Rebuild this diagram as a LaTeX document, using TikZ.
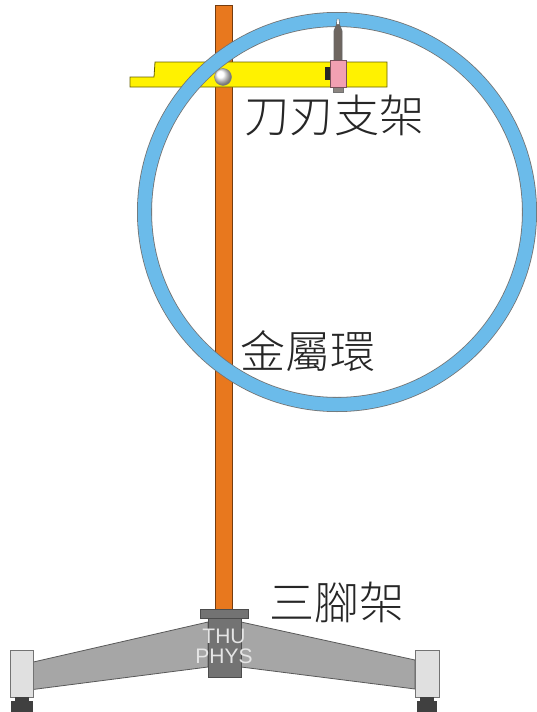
\documentclass[tikz,border=0pt]{standalone}
\usepackage{fontspec}
\newfontfamily\cjk{Noto Sans CJK TC Light}
\newfontfamily\labelsans{Liberation Sans}
\usetikzlibrary{shadings}
\definecolor{rodorange}{HTML}{E8781E}
\definecolor{baryellow}{HTML}{FFF200}
\definecolor{ringblue}{HTML}{6BBBEA}
\definecolor{knifepink}{HTML}{F2A0B2}
\definecolor{bladegray}{HTML}{6E6660}
\tikzset{part/.style={draw=#1,line width=0.8pt},part/.default=black!70}
\tikzset{label/.style={font=\cjk\fontsize{45}{45}\selectfont,text=black!85,inner sep=0pt}}
\tikzset{leg/.style={part=black!65,fill=black!35}}
\tikzset{foot/.style={part=black!55,fill=black!12}}
\tikzset{pad/.style={fill=black!75}}

\begin{document}
\begin{tikzpicture}[x=1pt,y=-1pt]
		\useasboundingbox (0,0) rectangle (537,712);
		
		% stand rod
		\filldraw [part=rodorange!50!black,fill=rodorange] (215,5) rectangle (232,612);
		
		% knife-edge holder bar
		\filldraw [part=baryellow!40!black,fill=baryellow]
			(130,77) -- (154,77) -- (155,62) -- (387,62) -- (387,87) -- (130,87) -- cycle;
		
		% metal ring
		\draw [black!55,line width=15pt] (337,212) circle (192.5);
		\draw [ringblue,line width=13.4pt] (337,212) circle (192.5);
		
		% pivot ball
		\shade [ball color=white] (223,77) circle (8.5);
		\draw [black!50,thin] (223,77) circle (8.5);
		
		% knife edge
		\fill [black!85] (325,67) rectangle (331,80);
		\filldraw [part=black!60,fill=bladegray]
			(334,60) -- (334,31) -- (336,26) -- (338,21) -- (340,26) -- (342,31) -- (342,60) -- cycle;
		\draw [black!70,fill=white] (336.5,24) -- (337,19) -- (339,19) -- (339.5,24);
		\filldraw [part=black!55,fill=bladegray!80] (333,87) rectangle (343,92);
		\filldraw [part=knifepink!50!black,fill=knifepink] (330,60) rectangle (346,87);
		
		% tripod legs
		\filldraw [leg] (29,663) -- (208,622) -- (208,667) -- (29,690) -- cycle;
		\filldraw [leg] (415,660) -- (241,622) -- (241,667) -- (415,689) -- cycle;
		
		% feet
		\filldraw [foot] (10,650) rectangle (33,697);
		\filldraw [foot] (415,650) rectangle (439,697);
		\fill [pad] (15,697) rectangle (29,702);
		\fill [pad] (11,701) rectangle (33,712);
		\fill [pad] (420,697) rectangle (434,702);
		\fill [pad] (417,701) rectangle (437,712);
		
		% tripod hub
		\filldraw [part=black!70,fill=black!55] (208,618) rectangle (241,677);
		\filldraw [part=black!70,fill=black!55] (200,609) rectangle (248,618);
		\node [font=\labelsans\fontsize{21}{21}\selectfont,text=black!10,align=center,
			inner sep=0pt] (hubtext) at (224,646) {THU\\[-1pt]PHYS};
		
		% labels
		\node [label] (knifelabel) at (334,115) {刀刃支架};
		\node [label] (ringlabel) at (308,351) {金屬環};
		\node [label] (tripodlabel) at (337,602) {三腳架};
	\end{tikzpicture}
\end{document}
